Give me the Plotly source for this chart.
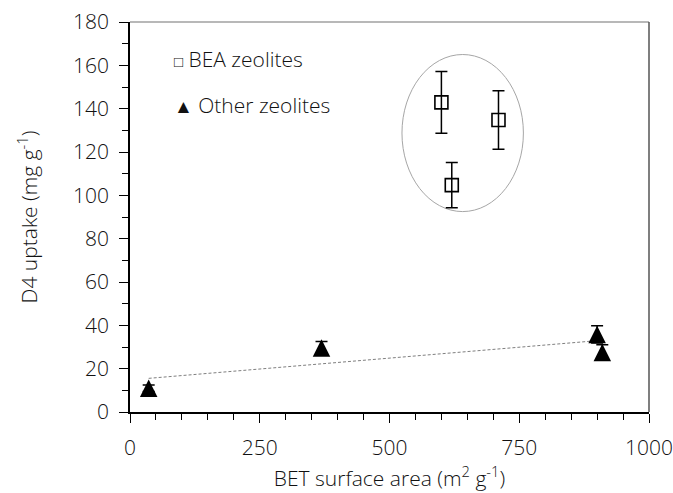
import numpy as np
import plotly.graph_objects as go

# BEA zeolites: BET surface area (m2/g), D4 uptake (mg/g), standard deviation
bea_area = [600, 620, 710]
bea_uptake = [142.9, 104.7, 134.8]
bea_err = [14.2, 10.4, 13.5]

# Other zeolites
other_area = [36, 369, 900, 910]
other_uptake = [11.0, 29.5, 35.8, 27.5]
other_err = [1.5, 3.0, 4.0, 3.5]

x_ticks = [0, 250, 500, 750, 1000]
y_ticks = [0, 20, 40, 60, 80, 100, 120, 140, 160, 180]

FONT = "Open Sans"
TXT = "#111111"
W, H = 673, 493

# Linear trend through the non-BEA zeolites
slope, intercept = np.polyfit(other_area, other_uptake, 1)
trend_x = np.array([min(other_area), max(other_area)])
trend_y = slope * trend_x + intercept

fig = go.Figure()

fig.add_trace(go.Scatter(
    x=trend_x, y=trend_y, mode="lines",
    line=dict(color="#7f7f7f", width=1, dash="3px,2px"),
    showlegend=False, hoverinfo="skip",
))

fig.add_trace(go.Scatter(
    x=bea_area, y=bea_uptake, mode="markers", name="BEA zeolites",
    marker=dict(symbol="square-open", size=13, color="black",
                line=dict(width=1.6, color="black")),
    error_y=dict(type="data", array=bea_err, visible=True,
                 color="black", thickness=1.5, width=6),
    showlegend=False,
))

# Centred upward triangle: arrow shape shifted by half its height, then flipped
fig.add_trace(go.Scatter(
    x=other_area, y=other_uptake, mode="markers", name="Other zeolites",
    marker=dict(symbol="arrow-down", size=17.5, standoff=8.75, angle=180,
                color="black", line=dict(width=0)),
    error_y=dict(type="data", array=other_err, visible=True,
                 color="black", thickness=1.5, width=6),
    showlegend=False,
))

# Grouping ellipse around the BEA samples
fig.add_shape(type="circle", xref="x", yref="y",
              x0=524, x1=758, y0=92.5, y1=165,
              line=dict(color="#a6a6a6", width=1), layer="below")

# Plot-area frame on top and right
fig.add_shape(type="line", xref="paper", yref="paper", x0=0, x1=1, y0=1, y1=1,
              line=dict(color="#a0a0a0", width=1.5))
fig.add_shape(type="line", xref="paper", yref="paper", x0=1, x1=1, y0=0, y1=1,
              line=dict(color="#555555", width=1.5))

# Legend text with glyph markers
legend_font = dict(family=FONT, size=21, color=TXT, weight=300)
fig.add_annotation(x=80, y=162.8, xref="x", yref="y", xanchor="left", yanchor="middle",
                   text="<span style='font-size:15px'>□</span> BEA zeolites",
                   showarrow=False, font=legend_font)
fig.add_annotation(x=80, y=141.6, xref="x", yref="y", xanchor="left", yanchor="middle",
                   text="<span style='font-size:19px'>▲</span> Other zeolites",
                   showarrow=False, font=legend_font)

axis_common = dict(
    showline=True, linecolor="black", linewidth=1.5,
    ticks="outside", tickcolor="black", tickwidth=1.2, ticklen=9,
    showgrid=False, zeroline=False, automargin=False,
    tickfont=dict(family=FONT, size=21, color=TXT, weight=300),
)

fig.update_xaxes(
    range=[0, 1000], tickvals=x_ticks, ticklabelstandoff=7,
    minor=dict(dtick=50, ticks="outside", ticklen=6, tickcolor="black", tickwidth=1),
    title=dict(text="BET surface area (m<sup>2</sup> g<sup>-1</sup>)",
               font=dict(family=FONT, size=21, color=TXT, weight=300), standoff=10),
    **axis_common,
)
fig.update_yaxes(
    range=[0, 180], tickvals=y_ticks, ticklabelstandoff=6,
    minor=dict(dtick=10, ticks="outside", ticklen=6, tickcolor="black", tickwidth=1),
    title=dict(text="D4 uptake (mg g<sup>-1</sup>)",
               font=dict(family=FONT, size=21, color=TXT, weight=300), standoff=30),
    **axis_common,
)

fig.update_layout(
    width=W, height=H,
    margin=dict(l=130, r=23.5, t=22, b=81),
    paper_bgcolor="white", plot_bgcolor="white",
    showlegend=False,
)

fig.write_html("out.html")
